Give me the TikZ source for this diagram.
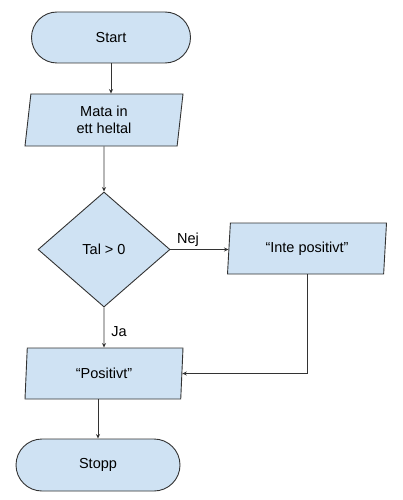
\documentclass[tikz,border=0pt]{standalone}
\usepackage{fontspec}
\setmainfont{Liberation Sans}
\usetikzlibrary{shapes.geometric,shapes.misc,arrows.meta}
\definecolor{boxfill}{HTML}{CFE2F3}
\definecolor{edge}{HTML}{333333}
\begin{document}
\begin{tikzpicture}[x=1pt,y=-1pt,
  every node/.style={font=\fontsize{14.5}{17}\selectfont, text=black},
  term/.style={rounded rectangle, draw=edge, fill=boxfill, line width=0.9pt, minimum height=51pt, inner sep=0pt},
  io/.style={trapezium, trapezium left angle=78, trapezium right angle=102, trapezium stretches body=true, draw=edge, fill=boxfill, line width=0.9pt, minimum width=158pt, minimum height=52pt, inner sep=0pt, align=center},
  dec/.style={diamond, draw=edge, fill=boxfill, line width=0.9pt, minimum width=132pt, minimum height=115pt, inner sep=0pt},
  conn/.style={draw=edge, line width=0.9pt, -{Stealth[length=4.5pt,width=4pt]}},
  lbl/.style={inner sep=0pt}
]
\useasboundingbox[fill=white] (0,0) rectangle (403,500);
\node[term, minimum width=159pt] (start) at (111,37.5) {Start};
\node[io] (input) at (104,120) {Mata in\\ett heltal};
\node[dec] (test) at (104,249.5) {Tal > 0};
\node[io, minimum width=159pt, minimum height=51pt] (neg) at (307,248.5) {“Inte positivt”};
\node[io, minimum height=51pt] (pos) at (104,373.5) {“Positivt”};
\node[term, minimum width=164pt, minimum height=52pt] (stop) at (98,465) {Stopp};
\node[lbl] (nej) at (188,240) {Nej};
\node[lbl] (ja) at (119,332) {Ja};

\draw[conn] (start.south) -- (start.south |- input.north);
\draw[conn] (input.south) -- (test.north);
\draw[conn] (test.east) -- (test.east -| neg.west);
\draw[conn] (test.south) -- (pos.north);
\draw[conn] (neg.south) |- (pos.east);
\draw[conn] (stop.north |- pos.south) -- (stop.north);
\end{tikzpicture}
\end{document}
